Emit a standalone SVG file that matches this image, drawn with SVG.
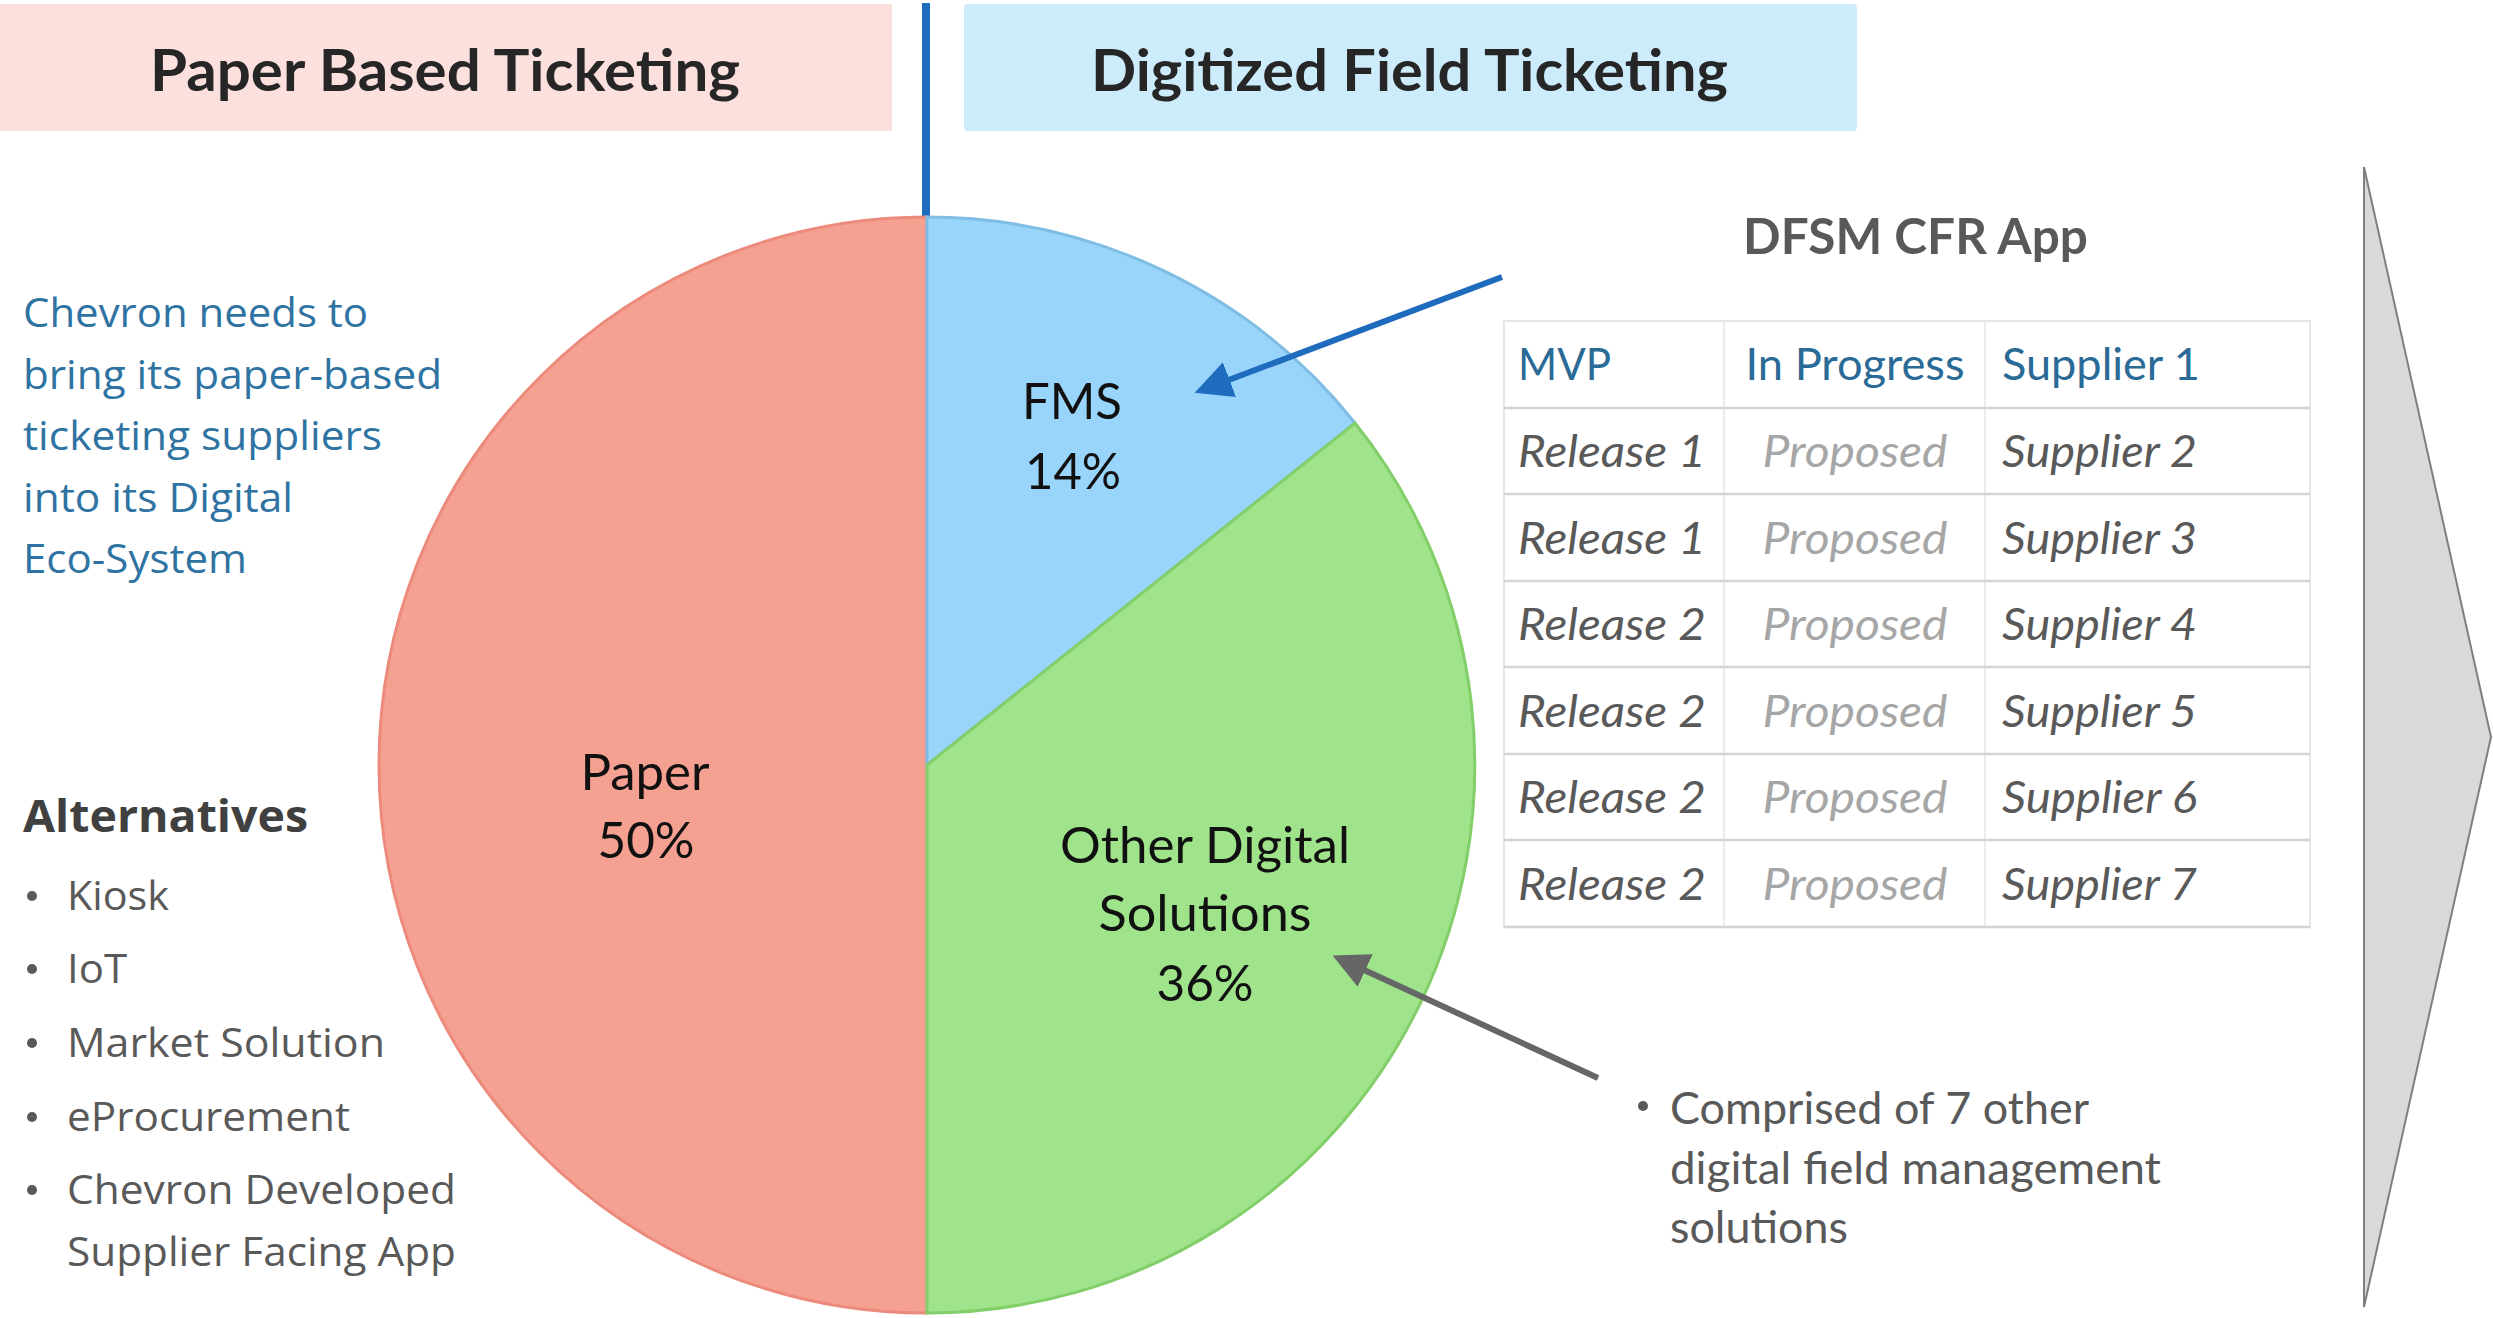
<svg xmlns="http://www.w3.org/2000/svg" width="2493" height="1318" viewBox="0 0 2493 1318">
<style>
.hdr{font-family:Lato,"Liberation Sans",sans-serif;font-weight:700;font-size:58px;fill:#262626}
.lbl{font-family:Lato,"Liberation Sans",sans-serif;font-size:50px;fill:#111111;text-anchor:middle}
.blue{font-family:"Open Sans","Liberation Sans",sans-serif;font-size:40px;fill:#2F73A2}
.alt{font-family:"Open Sans","Liberation Sans",sans-serif;font-size:40px;fill:#595959}
.altb{font-family:"Open Sans","Liberation Sans",sans-serif;font-size:44px;font-weight:700;fill:#404040}
.ttl{font-family:Lato,"Liberation Sans",sans-serif;font-size:50px;font-weight:700;fill:#595959}
.th{font-family:Lato,"Liberation Sans",sans-serif;font-size:45px;fill:#2A6A96}
.td{font-family:Lato,"Liberation Sans",sans-serif;font-size:45px;font-style:italic;fill:#595959}
.tp{font-family:Lato,"Liberation Sans",sans-serif;font-size:45px;font-style:italic;fill:#A6A6A6;text-anchor:middle}
.note{font-family:Lato,"Liberation Sans",sans-serif;font-size:45px;fill:#595959}
.dot{fill:#595959}
.rowline{stroke:#D4D4D4;stroke-width:2.5}
.colline{stroke:#ECECEC;stroke-width:2}
</style>
<defs>
<marker id="ahBlue" viewBox="0 0 10 10" refX="1" refY="5" markerWidth="6.2" markerHeight="6.6" orient="auto" markerUnits="strokeWidth">
<path d="M0,0 L10,5 L0,10 z" fill="#1F6BBE"/>
</marker>
<marker id="ahGray" viewBox="0 0 10 10" refX="1" refY="5" markerWidth="6" markerHeight="6.4" orient="auto" markerUnits="strokeWidth">
<path d="M0,0 L10,5 L0,10 z" fill="#666666"/>
</marker>
</defs>
<rect width="2493" height="1318" fill="#FFFFFF"/>

<g id="header-paper">
<rect x="0" y="4" width="892" height="127" fill="#FCE0DD"/>
<text class="hdr" x="150" y="91" textLength="590" lengthAdjust="spacingAndGlyphs">Paper Based Ticketing</text>
</g>
<g id="header-digital">
<rect x="964" y="4" width="893" height="127" rx="4" fill="#CCEBFB"/>
<text class="hdr" x="1091" y="91" textLength="637" lengthAdjust="spacingAndGlyphs">Digitized Field Ticketing</text>
</g>
<g id="divider">
<line x1="926" y1="3" x2="926" y2="218" stroke="#1F6BBE" stroke-width="8"/>
</g>

<g id="intro-text">
<text class="blue" x="23" y="327" textLength="345" lengthAdjust="spacingAndGlyphs">Chevron needs to</text>
<text class="blue" x="23" y="389" textLength="419" lengthAdjust="spacingAndGlyphs">bring its paper-based</text>
<text class="blue" x="23" y="450" textLength="359" lengthAdjust="spacingAndGlyphs">ticketing suppliers</text>
<text class="blue" x="23" y="512" textLength="270" lengthAdjust="spacingAndGlyphs">into its Digital</text>
<text class="blue" x="23" y="573" textLength="224" lengthAdjust="spacingAndGlyphs">Eco-System</text>
</g>

<g id="alternatives">
<text class="altb" x="23" y="832" textLength="285" lengthAdjust="spacingAndGlyphs">Alternatives</text>
<circle class="dot" cx="32" cy="896" r="5"/>
<text class="alt" x="67" y="910" textLength="102" lengthAdjust="spacingAndGlyphs">Kiosk</text>
<circle class="dot" cx="32" cy="969" r="5"/>
<text class="alt" x="67" y="983" textLength="60" lengthAdjust="spacingAndGlyphs">IoT</text>
<circle class="dot" cx="32" cy="1043" r="5"/>
<text class="alt" x="67" y="1057" textLength="318" lengthAdjust="spacingAndGlyphs">Market Solution</text>
<circle class="dot" cx="32" cy="1117" r="5"/>
<text class="alt" x="67" y="1131" textLength="283" lengthAdjust="spacingAndGlyphs">eProcurement</text>
<circle class="dot" cx="32" cy="1190" r="5"/>
<text class="alt" x="67" y="1204" textLength="389" lengthAdjust="spacingAndGlyphs">Chevron Developed</text>
<text class="alt" x="67" y="1266" textLength="389" lengthAdjust="spacingAndGlyphs">Supplier Facing App</text>
</g>

<g id="pie">
<g id="slice-paper">
<path d="M927,765 L927,1313 A548,548 0 0 1 927,217 Z" fill="#F5A192" stroke="#EC8A7C" stroke-width="3"/>
<text class="lbl" x="645" y="790" textLength="129" lengthAdjust="spacingAndGlyphs">Paper</text>
<text class="lbl" x="646" y="858" textLength="97" lengthAdjust="spacingAndGlyphs">50%</text>
</g>
<g id="slice-fms">
<path d="M927,765 L927,217 A548,548 0 0 1 1355,423 Z" fill="#99D5FA" stroke="#80BDE4" stroke-width="3"/>
<text class="lbl" x="1072" y="419" textLength="100" lengthAdjust="spacingAndGlyphs">FMS</text>
<text class="lbl" x="1073" y="489" textLength="96" lengthAdjust="spacingAndGlyphs">14%</text>
</g>
<g id="slice-other">
<path d="M927,765 L1355,423 A548,548 0 0 1 927,1313 Z" fill="#9FE38A" stroke="#82CF6A" stroke-width="3"/>
<text class="lbl" x="1205" y="863" textLength="290" lengthAdjust="spacingAndGlyphs">Other Digital</text>
<text class="lbl" x="1205" y="931" textLength="213" lengthAdjust="spacingAndGlyphs">Solutions</text>
<text class="lbl" x="1205" y="1001" textLength="97" lengthAdjust="spacingAndGlyphs">36%</text>
</g>
</g>

<g id="dfsm-table">
<text class="ttl" x="1743" y="254" textLength="345" lengthAdjust="spacingAndGlyphs">DFSM CFR App</text>
<rect x="1504" y="321" width="806" height="606" fill="#FFFFFF" stroke="#E6E6E6" stroke-width="2"/>
<line class="colline" x1="1724" y1="321" x2="1724" y2="927"/>
<line class="colline" x1="1985" y1="321" x2="1985" y2="927"/>
<line class="rowline" x1="1504" y1="408" x2="2310" y2="408"/>
<line class="rowline" x1="1504" y1="494" x2="2310" y2="494"/>
<line class="rowline" x1="1504" y1="581" x2="2310" y2="581"/>
<line class="rowline" x1="1504" y1="667" x2="2310" y2="667"/>
<line class="rowline" x1="1504" y1="754" x2="2310" y2="754"/>
<line class="rowline" x1="1504" y1="840" x2="2310" y2="840"/>
<line class="rowline" x1="1504" y1="927" x2="2310" y2="927"/>
<text class="th" x="1518" y="380" textLength="93" lengthAdjust="spacingAndGlyphs">MVP</text>
<text class="th" x="1855" y="380" text-anchor="middle" textLength="219" lengthAdjust="spacingAndGlyphs">In Progress</text>
<text class="th" x="2002" y="380" textLength="198" lengthAdjust="spacingAndGlyphs">Supplier 1</text>
<text class="td" x="1518" y="467" textLength="188" lengthAdjust="spacingAndGlyphs">Release 1</text>
<text class="tp" x="1855" y="467" textLength="185" lengthAdjust="spacingAndGlyphs">Proposed</text>
<text class="td" x="2002" y="467" textLength="195" lengthAdjust="spacingAndGlyphs">Supplier 2</text>
<text class="td" x="1518" y="554" textLength="188" lengthAdjust="spacingAndGlyphs">Release 1</text>
<text class="tp" x="1855" y="554" textLength="185" lengthAdjust="spacingAndGlyphs">Proposed</text>
<text class="td" x="2002" y="554" textLength="195" lengthAdjust="spacingAndGlyphs">Supplier 3</text>
<text class="td" x="1518" y="640" textLength="188" lengthAdjust="spacingAndGlyphs">Release 2</text>
<text class="tp" x="1855" y="640" textLength="185" lengthAdjust="spacingAndGlyphs">Proposed</text>
<text class="td" x="2002" y="640" textLength="195" lengthAdjust="spacingAndGlyphs">Supplier 4</text>
<text class="td" x="1518" y="727" textLength="188" lengthAdjust="spacingAndGlyphs">Release 2</text>
<text class="tp" x="1855" y="727" textLength="185" lengthAdjust="spacingAndGlyphs">Proposed</text>
<text class="td" x="2002" y="727" textLength="195" lengthAdjust="spacingAndGlyphs">Supplier 5</text>
<text class="td" x="1518" y="813" textLength="188" lengthAdjust="spacingAndGlyphs">Release 2</text>
<text class="tp" x="1855" y="813" textLength="185" lengthAdjust="spacingAndGlyphs">Proposed</text>
<text class="td" x="2002" y="813" textLength="195" lengthAdjust="spacingAndGlyphs">Supplier 6</text>
<text class="td" x="1518" y="900" textLength="188" lengthAdjust="spacingAndGlyphs">Release 2</text>
<text class="tp" x="1855" y="900" textLength="185" lengthAdjust="spacingAndGlyphs">Proposed</text>
<text class="td" x="2002" y="900" textLength="195" lengthAdjust="spacingAndGlyphs">Supplier 7</text>
</g>

<g id="note-other">
<circle class="dot" cx="1643" cy="1106" r="5"/>
<text class="note" x="1670" y="1124" textLength="419" lengthAdjust="spacingAndGlyphs">Comprised of 7 other</text>
<text class="note" x="1670" y="1184" textLength="491" lengthAdjust="spacingAndGlyphs">digital field management</text>
<text class="note" x="1670" y="1243" textLength="178" lengthAdjust="spacingAndGlyphs">solutions</text>
</g>

<g id="progress-arrow">
<polygon points="2364,167 2491,737 2364,1307" fill="#D9D9D9" stroke="#7F7F7F" stroke-width="2"/>
</g>

<g id="connectors">
<line x1="1502" y1="277" x2="1226" y2="381" stroke="#1F6BBE" stroke-width="6" marker-end="url(#ahBlue)"/>
<line x1="1598" y1="1078" x2="1362" y2="969" stroke="#666666" stroke-width="6" marker-end="url(#ahGray)"/>
</g>
</svg>
